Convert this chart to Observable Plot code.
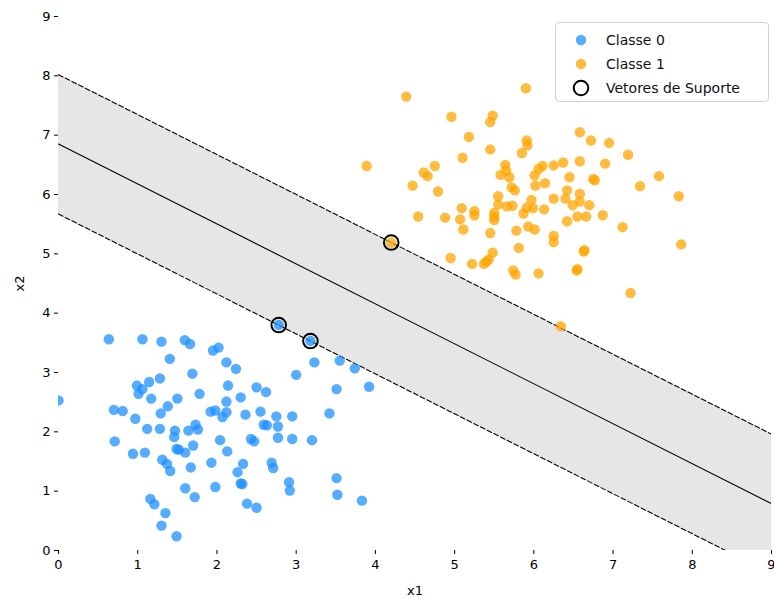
<!DOCTYPE html>
<html>
<head>
<meta charset="utf-8">
<script src="https://cdn.jsdelivr.net/npm/d3@7"></script>
<script src="https://cdn.jsdelivr.net/npm/@observablehq/plot@0.6"></script>
<style>
  html, body { margin: 0; padding: 0; background: #fff; }
  #chart { position: relative; width: 774px; height: 599px; font-family: "DejaVu Sans", sans-serif; }
  .legend {
    position: absolute; left: 555px; top: 22px; width: 214px; height: 80px;
    box-sizing: border-box; border: 1px solid #d0d0d0; border-radius: 4px;
    background: rgba(255,255,255,0.8); font-size: 14px; color: #111;
    padding: 5px 0 0 0;
  }
  .legend .row { display: flex; align-items: center; height: 24px; }
  .legend .mk { width: 50px; display: flex; justify-content: center; }
  .legend span.t { white-space: nowrap; }
</style>
</head>
<body>
<div id="chart"></div>
<script>
// Class 0 samples (x1, x2)
const class0X = [0.635,1.06,1.30,1.595,1.66,1.95,2.02,1.405,2.12,1.69,1.28,1.145,0.99,1.06,1.01,1.17,1.50,1.78,2.14,1.38,
  1.29,0.70,0.81,0.97,1.12,1.28,1.47,1.64,1.73,1.76,1.92,1.98,2.07,2.12,2.12,1.46,0.71,2.04,0.00,0.94,
  1.09,1.49,1.52,1.60,1.70,2.13,1.31,1.37,1.41,1.67,1.93,1.60,1.98,1.72,1.16,1.21,1.35,1.30,1.49,2.78,
  3.18,2.24,3.23,3.55,3.74,3.00,2.50,2.62,3.51,3.92,2.30,2.36,2.55,2.75,2.95,3.42,2.59,2.63,2.77,2.77,
  2.43,2.47,2.95,3.20,2.33,2.26,2.69,2.71,2.30,2.32,2.91,2.92,3.51,3.52,3.83,2.38,2.50];
const class0Y = [3.56,3.56,3.52,3.545,3.48,3.37,3.42,3.23,3.17,2.98,2.90,2.84,2.78,2.72,2.64,2.56,2.56,2.64,2.78,2.43,
  2.31,2.37,2.35,2.22,2.05,2.05,2.02,2.02,2.12,2.04,2.34,2.36,2.25,2.33,2.51,1.91,1.84,1.86,2.53,1.63,
  1.65,1.71,1.70,1.65,1.77,1.67,1.53,1.46,1.34,1.40,1.48,1.05,1.07,0.90,0.87,0.78,0.63,0.42,0.24,3.80,
  3.53,3.06,3.17,3.20,3.07,2.96,2.75,2.67,2.72,2.76,2.58,2.29,2.34,2.26,2.26,2.31,2.12,2.11,2.09,1.90,
  1.88,1.84,1.88,1.86,1.46,1.32,1.48,1.39,1.13,1.12,1.15,1.01,1.22,0.94,0.84,0.79,0.72];

// Class 1 samples (x1, x2)
const class1X = [4.39,5.90,4.96,5.48,5.45,5.18,5.45,5.91,5.92,5.85,5.10,3.89,4.75,4.61,4.66,4.47,4.79,5.64,5.65,5.58,
  5.69,5.72,5.76,6.01,6.06,6.11,6.02,6.14,6.25,6.37,6.45,6.42,5.55,5.97,6.25,6.40,5.09,5.25,5.25,5.55,
  5.66,5.73,5.91,5.99,6.13,4.54,4.88,5.07,5.11,5.50,5.50,5.50,5.87,6.42,5.45,5.78,5.93,6.01,6.25,6.25,
  4.20,4.95,5.22,5.37,5.40,5.43,5.48,5.81,5.74,5.77,6.06,6.34,6.58,6.72,6.95,7.19,6.58,6.90,6.75,6.77,
  7.58,7.34,7.83,6.58,6.58,6.49,6.70,6.55,6.66,6.87,7.12,7.86,6.63,6.64,6.54,6.55,7.22];
const class1Y = [7.65,7.79,7.31,7.33,7.22,6.97,6.76,6.91,6.83,6.70,6.62,6.48,6.48,6.37,6.31,6.15,6.05,6.50,6.40,6.33,
  6.29,6.12,6.07,6.32,6.43,6.48,6.15,6.19,6.49,6.54,6.29,6.07,5.97,5.91,5.93,5.93,5.77,5.72,5.65,5.83,
  5.80,5.81,5.78,5.77,5.75,5.63,5.61,5.58,5.41,5.69,5.63,5.57,5.68,5.55,5.35,5.39,5.46,5.41,5.30,5.20,
  5.19,4.93,4.83,4.83,4.87,4.90,5.02,5.10,4.72,4.65,4.67,3.78,7.05,6.91,6.87,6.67,6.56,6.52,6.26,6.24,
  6.31,6.14,5.97,6.01,5.88,5.82,5.82,5.63,5.63,5.65,5.45,5.16,5.04,5.06,4.72,4.74,4.34];

// Support vectors
const svX = [2.78, 3.18, 4.20];
const svY = [3.80, 3.53, 5.19];

// Separating hyperplane and margins, evaluated at the ends of the x1 range
const lineX = [0, 9];
const decisionY = [6.85, 0.79];
const marginUpperY = [8.02, 1.96];
const marginLowerY = [5.67, -0.39];

// Axis ticks
const ticks = [0, 1, 2, 3, 4, 5, 6, 7, 8, 9];

const BLUE = "#1e90ff";
const ORANGE = "#ffa500";

const class0 = class0X.map((x, i) => ({x, y: class0Y[i]}));
const class1 = class1X.map((x, i) => ({x, y: class1Y[i]}));
const sv = svX.map((x, i) => ({x, y: svY[i]}));
const band = lineX.map((x, i) => ({x, d: decisionY[i], lo: marginLowerY[i], hi: marginUpperY[i]}));

const chart = Plot.plot({
  width: 774,
  height: 599,
  marginLeft: 58,
  marginRight: 3,
  marginTop: 16,
  marginBottom: 49,
  style: {fontFamily: "DejaVu Sans, sans-serif", fontSize: "13px", color: "#000", background: "#fff"},
  x: {domain: [0, 9]},
  y: {domain: [0, 9]},
  marks: [
    Plot.areaY(band, {x: "x", y1: "lo", y2: "hi", fill: "gray", fillOpacity: 0.2, clip: true}),
    Plot.line(band, {x: "x", y: "d", stroke: "black", strokeWidth: 1.1, clip: true}),
    Plot.line(band, {x: "x", y: "hi", stroke: "black", strokeWidth: 1.1, strokeDasharray: "5,2.5", clip: true}),
    Plot.line(band, {x: "x", y: "lo", stroke: "black", strokeWidth: 1.1, strokeDasharray: "5,2.5", clip: true}),
    Plot.dot(class0, {x: "x", y: "y", r: 5.2, fill: BLUE, fillOpacity: 0.75, stroke: "none", clip: true}),
    Plot.dot(class1, {x: "x", y: "y", r: 5.2, fill: ORANGE, fillOpacity: 0.75, stroke: "none", clip: true}),
    Plot.dot(sv, {x: "x", y: "y", r: 7.3, fill: "none", stroke: "black", strokeWidth: 2, clip: true}),
    Plot.axisX({ticks, tickSize: 4, tickPadding: 5, tickFormat: d => String(d),
      label: "x1", labelAnchor: "center", labelArrow: "none", labelOffset: 44, fontSize: 13}),
    Plot.axisY({ticks, tickSize: 4, tickPadding: 4, tickFormat: d => String(d),
      label: "x2", labelAnchor: "center", labelArrow: "none", labelOffset: 44, fontSize: 13})
  ]
});

const root = document.getElementById("chart");
root.appendChild(chart);

// Legend box in the upper right
const legend = document.createElement("div");
legend.className = "legend";
const entries = [
  {label: "Classe 0", svg: `<svg width="14" height="14"><circle cx="7" cy="7" r="5.2" fill="${BLUE}" fill-opacity="0.75"/></svg>`},
  {label: "Classe 1", svg: `<svg width="14" height="14"><circle cx="7" cy="7" r="5.2" fill="${ORANGE}" fill-opacity="0.75"/></svg>`},
  {label: "Vetores de Suporte", svg: `<svg width="18" height="18"><circle cx="9" cy="9" r="7.3" fill="none" stroke="black" stroke-width="2"/></svg>`}
];
for (const e of entries) {
  const row = document.createElement("div");
  row.className = "row";
  row.innerHTML = `<div class="mk">${e.svg}</div><span class="t">${e.label}</span>`;
  legend.appendChild(row);
}
root.appendChild(legend);
</script>
</body>
</html>
